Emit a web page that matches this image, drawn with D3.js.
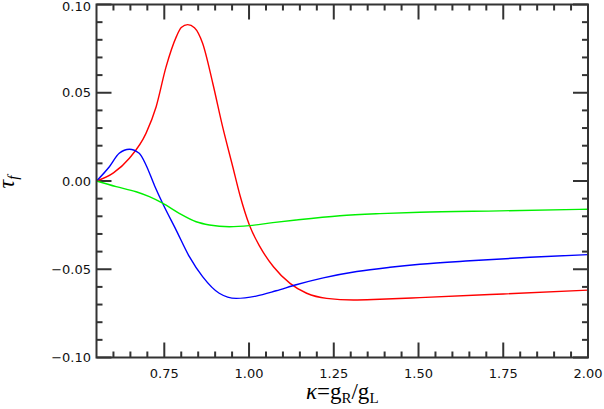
<!DOCTYPE html>
<html>
<head>
<meta charset="utf-8">
<script src="https://cdn.jsdelivr.net/npm/d3@7"></script>
<style>
  body { margin: 0; background: #fff; }
  svg { display: block; }
  .ticklabel { font-family: "DejaVu Sans", sans-serif; font-size: 13px; fill: #111; }
  .axlabel { font-family: "Liberation Serif", "DejaVu Serif", serif; fill: #000; }
</style>
</head>
<body>
<svg width="604" height="409"></svg>
<script>
// curves: kappa = gR/gL and tau_f
var redX   = [0.55, 0.60, 0.647, 0.696, 0.726, 0.755, 0.785, 0.800, 0.819, 0.839, 0.863, 0.893, 0.922, 0.952, 0.973, 1.001, 1.032, 1.072, 1.121, 1.170, 1.229, 1.308, 1.386, 1.504, 1.75, 2.00];
var redY   = [0.0, 0.0046, 0.0129, 0.0270, 0.0421, 0.0645, 0.0815, 0.0870, 0.0886, 0.0868, 0.0780, 0.0554, 0.0308, 0.0081, -0.0079, -0.0249, -0.0372, -0.0486, -0.0580, -0.0636, -0.0665, -0.0674, -0.0670, -0.0661, -0.0640, -0.0618];

var blueX  = [0.55, 0.588, 0.617, 0.647, 0.676, 0.696, 0.721, 0.745, 0.785, 0.824, 0.863, 0.912, 0.962, 1.021, 1.080, 1.139, 1.219, 1.318, 1.416, 1.504, 1.652, 1.829, 2.00];
var blueY  = [0.0, 0.0081, 0.0157, 0.0180, 0.0157, 0.0091, -0.0025, -0.0126, -0.0278, -0.0429, -0.0542, -0.0636, -0.0665, -0.0652, -0.0622, -0.0588, -0.0549, -0.0513, -0.0489, -0.0472, -0.0452, -0.0432, -0.0417];

var greenX = [0.55, 0.608, 0.667, 0.706, 0.745, 0.794, 0.844, 0.883, 0.942, 1.001, 1.070, 1.139, 1.268, 1.386, 1.504, 1.740, 2.00];
var greenY = [0.0, -0.0032, -0.0061, -0.0089, -0.0126, -0.0183, -0.0231, -0.0249, -0.0259, -0.0253, -0.0236, -0.0221, -0.0197, -0.0185, -0.0177, -0.0169, -0.0160];

var xMajor = [0.75, 1.00, 1.25, 1.50, 1.75, 2.00];
var xLabels = ["0.75", "1.00", "1.25", "1.50", "1.75", "2.00"];
var yMajor = [-0.10, -0.05, 0.00, 0.05, 0.10];
var yLabels = ["\u22120.10", "\u22120.05", "0.00", "0.05", "0.10"];

var svg = d3.select("svg");
var pLeft = 96.5, pRight = 588, pTop = 4.5, pBottom = 357.5;

var x = d3.scaleLinear().domain([0.55, 2.0]).range([pLeft, pRight]);
var y = d3.scaleLinear().domain([-0.10, 0.10]).range([pBottom, pTop]);

var xMinor = d3.range(0.60, 2.0, 0.05).filter(function(v) {
  return Math.abs(Math.round(v / 0.25) * 0.25 - v) > 1e-6;
});
var yMinor = d3.range(-0.09, 0.1, 0.01).filter(function(v) {
  return Math.abs(Math.round(v / 0.05) * 0.05 - v) > 1e-6;
});

var tickColor = "#333";
var ticks = svg.append("g")
    .attr("stroke", tickColor)
    .attr("stroke-width", 2);

function addXTicks(vals, len) {
  vals.forEach(function(v) {
    ticks.append("line")
      .attr("x1", x(v)).attr("x2", x(v))
      .attr("y1", pBottom).attr("y2", pBottom - len);
    ticks.append("line")
      .attr("x1", x(v)).attr("x2", x(v))
      .attr("y1", pTop).attr("y2", pTop + len);
  });
}
function addYTicks(vals, len) {
  vals.forEach(function(v) {
    ticks.append("line")
      .attr("x1", pLeft).attr("x2", pLeft + len)
      .attr("y1", y(v)).attr("y2", y(v));
    ticks.append("line")
      .attr("x1", pRight).attr("x2", pRight - len)
      .attr("y1", y(v)).attr("y2", y(v));
  });
}
addXTicks(xMajor, 15);
addXTicks(xMinor, 6);
addYTicks(yMajor, 15);
addYTicks(yMinor, 6);

// curves
var line = d3.line()
    .x(function(d) { return x(d[0]); })
    .y(function(d) { return y(d[1]); })
    .curve(d3.curveMonotoneX);

var curves = [
  { xs: redX, ys: redY, color: "#ff0000" },
  { xs: blueX, ys: blueY, color: "#0000ff" },
  { xs: greenX, ys: greenY, color: "#00f000" }
];

svg.append("g").selectAll("path")
  .data(curves)
  .enter().append("path")
    .attr("d", function(c) { return line(d3.zip(c.xs, c.ys)); })
    .attr("fill", "none")
    .attr("stroke", function(c) { return c.color; })
    .attr("stroke-width", 1.4);

// frame
svg.append("rect")
  .attr("x", pLeft).attr("y", pTop)
  .attr("width", pRight - pLeft).attr("height", pBottom - pTop)
  .attr("fill", "none")
  .attr("stroke", tickColor)
  .attr("stroke-width", 2);

// tick labels
svg.append("g").selectAll("text")
  .data(xMajor)
  .enter().append("text")
    .attr("class", "ticklabel")
    .attr("x", function(d) { return x(d); })
    .attr("y", 378)
    .attr("text-anchor", "middle")
    .text(function(d, i) { return xLabels[i]; });

svg.append("g").selectAll("text")
  .data(yMajor)
  .enter().append("text")
    .attr("class", "ticklabel")
    .attr("x", 91)
    .attr("y", function(d) { return Math.max(y(d), 6) + 4.7; })
    .attr("text-anchor", "end")
    .text(function(d, i) { return yLabels[i]; });

// axis titles
var xt = svg.append("text")
    .attr("class", "axlabel")
    .attr("x", (pLeft + pRight) / 2)
    .attr("y", 399)
    .attr("text-anchor", "middle")
    .style("font-size", "23px");
xt.append("tspan").style("font-style", "italic").text("\u03ba");
xt.append("tspan").text("=g");
xt.append("tspan").attr("dy", 4).style("font-size", "15px").text("R");
xt.append("tspan").attr("dy", -4).text("/g");
xt.append("tspan").attr("dy", 4).style("font-size", "15px").text("L");

var yt = svg.append("text")
    .attr("class", "axlabel")
    .attr("transform", "translate(14,182) rotate(-90)")
    .attr("text-anchor", "middle")
    .style("font-size", "24px")
    .style("font-style", "italic");
yt.append("tspan").text("\u03c4");
yt.append("tspan").attr("dy", 4).style("font-size", "15px").text("f");
</script>
</body>
</html>
